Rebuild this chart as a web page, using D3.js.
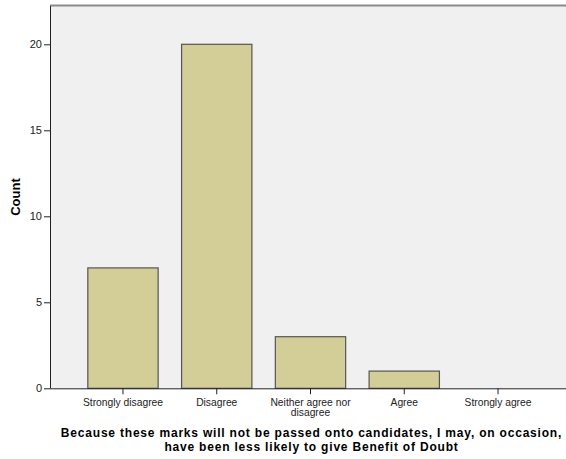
<!DOCTYPE html>
<html><head><meta charset="utf-8">
<script src="https://cdn.jsdelivr.net/npm/d3@7"></script>
<style>body{margin:0;background:#fff;}svg{display:block;}</style>
</head><body>
<svg id="c" width="566" height="459"></svg>
<script>
const categories = [["Strongly disagree"], ["Disagree"], ["Neither agree nor", "disagree"], ["Agree"], ["Strongly agree"]];
const counts = [7, 20, 3, 1, 0];
const yTicks = [0, 5, 10, 15, 20];
const yLabel = "Count";
const titleLines = ["Because these marks will not be passed onto candidates, I may, on occasion,", "have been less likely to give Benefit of Doubt"];

(function() {
const svg = d3.select("#c");
const font = "'Liberation Sans', Arial, sans-serif";
const pl = 50, pr = 566, pt = 6, pb = 388.3;
const keys = categories.map(c => c.join(" "));
const x = d3.scaleBand().domain(keys).range([76.1, 544.9]).paddingInner(0.25).paddingOuter(0.125);
const y = d3.scaleLinear().domain([0, 20]).range([pb, pb - 20 * 17.2]);

svg.append("rect").attr("x", pl).attr("y", pt).attr("width", pr - pl).attr("height", pb - pt).attr("fill", "#f0f0f0");
svg.append("line").attr("x1", pl).attr("x2", pr).attr("y1", pt - 0.5).attr("y2", pt - 0.5).attr("stroke", "#8a8a8a").attr("stroke-width", 2);

svg.selectAll("rect.bar").data(counts).join("rect").attr("class", "bar")
  .attr("x", (d, i) => x(keys[i]))
  .attr("y", d => y(d))
  .attr("width", x.bandwidth())
  .attr("height", d => pb - y(d))
  .attr("fill", "#d3ce97")
  .attr("stroke", "#555")
  .attr("stroke-width", 1.2)
  .style("display", d => d > 0 ? null : "none");

const ya = svg.append("g").attr("transform", `translate(${pl},0)`)
  .call(d3.axisLeft(y).tickValues(yTicks).tickSize(6).tickPadding(2).tickFormat(d3.format("d")));
ya.select(".domain").attr("d", `M0.5,${pt}V${pb}`).attr("stroke", "#222");
ya.selectAll(".tick line").attr("stroke", "#222");
ya.selectAll("text").attr("font-family", font).attr("font-size", 11).attr("fill", "#222");

const xa = svg.append("g").attr("transform", `translate(0,${pb})`)
  .call(d3.axisBottom(x).tickSize(6).tickFormat(""));
xa.select(".domain").attr("d", `M${pl},0.5H${pr}`).attr("stroke", "#222");
xa.selectAll(".tick line").attr("stroke", "#222");
xa.selectAll(".tick").each(function(d, i) {
  const t = d3.select(this).append("text").attr("font-family", font).attr("font-size", 10.3).attr("fill", "#222").attr("text-anchor", "middle");
  categories[i].forEach((l, j) => t.append("tspan").attr("x", 0).attr("y", 17.3 + j * 10.5).text(l));
});

svg.append("text").attr("transform", `translate(20,197) rotate(-90)`).attr("text-anchor", "middle")
  .attr("font-family", font).attr("font-size", 13).attr("font-weight", "bold").attr("fill", "#000").text(yLabel);

const tt = svg.append("text").attr("text-anchor", "middle").attr("font-family", font).attr("font-size", 12).attr("font-weight", "bold").attr("letter-spacing", 0.8).attr("fill", "#000");
titleLines.forEach((l, j) => tt.append("tspan").attr("x", 311.5).attr("y", 436.7 + j * 14.5).text(l));
})();
</script>
</body></html>
